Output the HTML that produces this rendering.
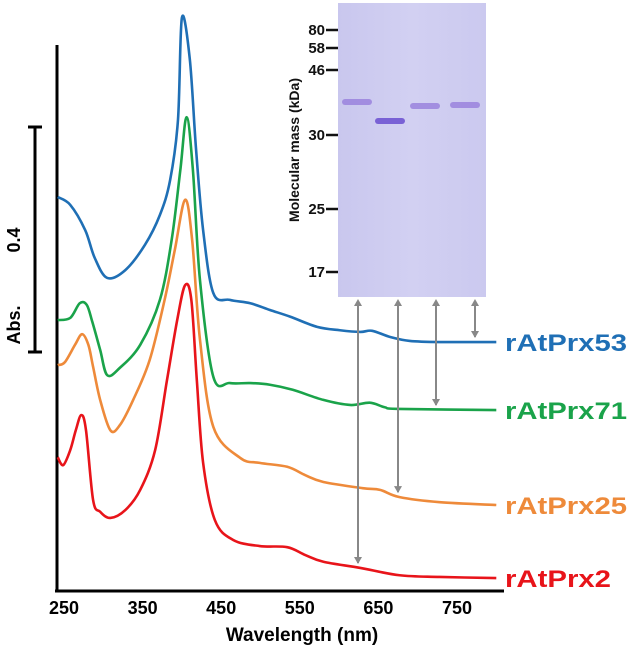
<!DOCTYPE html>
<html><head><meta charset="utf-8">
<style>
html,body{margin:0;padding:0;background:#fff;}
svg{display:block;font-family:"Liberation Sans",Arial,sans-serif;font-weight:bold;}
</style></head>
<body>
<svg id="chart" width="633" height="654" viewBox="0 0 633 654" xmlns="http://www.w3.org/2000/svg">
<g id="gel">
  <defs>
    <linearGradient id="gelg" x1="0" y1="0" x2="1" y2="0">
      <stop offset="0" stop-color="#c9c7ee"/><stop offset="0.5" stop-color="#d2d0f2"/><stop offset="1" stop-color="#cbc9ef"/>
    </linearGradient>
  </defs>
  <rect x="338" y="3" width="148" height="294" fill="url(#gelg)"/>
  <text transform="translate(299,150) rotate(-90)" text-anchor="middle" font-size="14" fill="#111">Molecular mass (kDa)</text>
</g>
<g id="plot"></g>
</svg>
<script>
// ---- data ----
const blueWl  = [242,258,277,289,305,328,353,372,385,395,400,410,418,427,440,461,487,512,538,572,601,627,642,665,690,728,800];
const blueAbs = [.701,.687,.642,.593,.557,.571,.616,.669,.731,.838,1.02,.947,.786,.642,.530,.518,.512,.500,.488,.470,.464,.461,.463,.452,.445,.443,.443];
const greenWl  = [242,258,270,279,286,296,305,321,347,372,387,398,406,414,423,440,461,487,512,541,580,614,639,658,677,800];
const greenAbs = [.482,.486,.512,.509,.479,.429,.384,.397,.438,.518,.625,.749,.843,.749,.553,.381,.370,.370,.367,.358,.340,.331,.335,.327,.324,.322];
const orangeWl  = [242,251,264,273,281,287,296,309,321,338,359,378,391,404,413,423,440,474,499,534,557,580,630,652,677,728,800];
const orangeAbs = [.402,.407,.438,.457,.438,.399,.340,.286,.295,.340,.411,.518,.607,.696,.625,.447,.292,.237,.228,.221,.206,.194,.183,.180,.167,.158,.153];
const redWl  = [242,249,258,265,272,278,287,296,309,328,347,366,381,394,404,412,419,427,442,465,499,534,557,580,627,677,728,800];
const redAbs = [.238,.224,.251,.286,.313,.286,.162,.141,.130,.144,.180,.251,.375,.482,.544,.518,.375,.228,.126,.091,.080,.078,.064,.052,.041,.028,.025,.023];
const seriesNames = ["rAtPrx53","rAtPrx71","rAtPrx25","rAtPrx2"];
const xTicks = [250,350,450,550,650,750];
const markerKDa = ["80","58","46","30","25","17"];
const markerY = [30,48,70,135,209,272];
const bandLaneX = [342,375,410,450];
const bandY = [102,121,106,105];

// ---- axes ----
const X0 = 64, XS = 0.786, Y0 = 591, YS = 562;
const xs = w => X0 + (w - 250) * XS;
const ys = a => Y0 - a * YS;
const NS = "http://www.w3.org/2000/svg";
const plot = document.getElementById('plot');
const gel = document.getElementById('gel');
function mk(tag, attrs, parent){ const e=document.createElementNS(NS,tag); for(const k in attrs) e.setAttribute(k,attrs[k]); (parent||plot).appendChild(e); return e; }

// gel markers
markerKDa.forEach((m,i)=>{
  const t = mk('text',{x:325,y:markerY[i]+5,'text-anchor':'end','font-size':15,fill:'#111'},gel);
  t.textContent = m;
  
  
  const l = mk('line',{x1:326,x2:338,y1:markerY[i],y2:markerY[i],stroke:'#111','stroke-width':2.5},gel);
  
  
});
bandLaneX.forEach((bx,i)=>{
  const b = mk('rect',{x:bx,y:bandY[i]-3,width:30,height:6,rx:3,fill:i===1?'#6a4ed0':'#9a82dd',opacity:0.85},gel);
  
  
});

// axes lines
const ya = mk('line',{x1:57,x2:57,y1:45,y2:592,stroke:'#000','stroke-width':3});
 
const xa = mk('line',{x1:55,x2:504,y1:591,y2:591,stroke:'#000','stroke-width':3});
 
xTicks.forEach(v=>{
  const t = mk('text',{x:xs(v),y:614,'text-anchor':'middle','font-size':18,fill:'#000'});
  t.textContent = v;
  
  
});
const xt = mk('text',{x:302,y:641,'text-anchor':'middle','font-size':19,fill:'#000'});
xt.textContent = 'Wavelength (nm)';
 

// scale bar
const sb = mk('path',{d:'M28 127H42M35 127V352M28 352H42',stroke:'#000','stroke-width':3,fill:'none'});
 
const s1 = mk('text',{transform:'translate(20,240) rotate(-90)','text-anchor':'middle','font-size':18,fill:'#000'});
s1.textContent='0.4';  
const s2 = mk('text',{transform:'translate(20,325) rotate(-90)','text-anchor':'middle','font-size':18,fill:'#000'});
s2.textContent='Abs.';  

// series
const series = [[blueWl,blueAbs,'#1f6fb5'],[greenWl,greenAbs,'#1aa34a'],[orangeWl,orangeAbs,'#ee8a3a'],[redWl,redAbs,'#e8141a']];
const labelLen = [122,122,122,106];
series.forEach((s,i)=>{
  const [wl,ab,c] = s;
  const pts = wl.map((w,j)=>[xs(w),ys(ab[j])]);
  let d = 'M'+pts[0][0]+' '+pts[0][1];
  for(let j=1;j<pts.length;j++){
    const p0=pts[j-2]||pts[j-1], p1=pts[j-1], p2=pts[j], p3=pts[j+1]||pts[j];
    const c1x=p1[0]+(p2[0]-p0[0])/6, c1y=p1[1]+(p2[1]-p0[1])/6;
    const c2x=p2[0]-(p3[0]-p1[0])/6, c2y=p2[1]-(p3[1]-p1[1])/6;
    d+=` C${c1x} ${c1y} ${c2x} ${c2y} ${p2[0]} ${p2[1]}`;
  }
  const p = mk('path',{d:d,stroke:c,'stroke-width':2.6,fill:'none','stroke-linejoin':'round'});
  
  
  const last = ab[ab.length-1];
  const t = mk('text',{x:505,y:ys(last)+9,'font-size':24,fill:c,textLength:labelLen[i],lengthAdjust:'spacingAndGlyphs'});
  t.textContent = seriesNames[i];
  
  
});

// arrows connecting gel lanes to spectra (lane i -> series)
const arrowX = [358,398,436,475];
const arrowSeries = [3,2,1,0];
arrowX.forEach((ax,i)=>{
  const s = series[arrowSeries[i]];
  const yEnd = ys(s[1][s[0].findIndex(w=>xs(w)>=ax)]) - 5;
  const g = mk('g',{});
  
  
  mk('line',{x1:ax,x2:ax,y1:302,y2:yEnd,stroke:'#888','stroke-width':2},g);
  mk('path',{d:`M${ax-4} ${306}L${ax} ${299}L${ax+4} ${306}Z`,fill:'#888'},g);
  mk('path',{d:`M${ax-4} ${yEnd-6}L${ax} ${yEnd+1}L${ax+4} ${yEnd-6}Z`,fill:'#888'},g);
});
</script>
</body></html>
